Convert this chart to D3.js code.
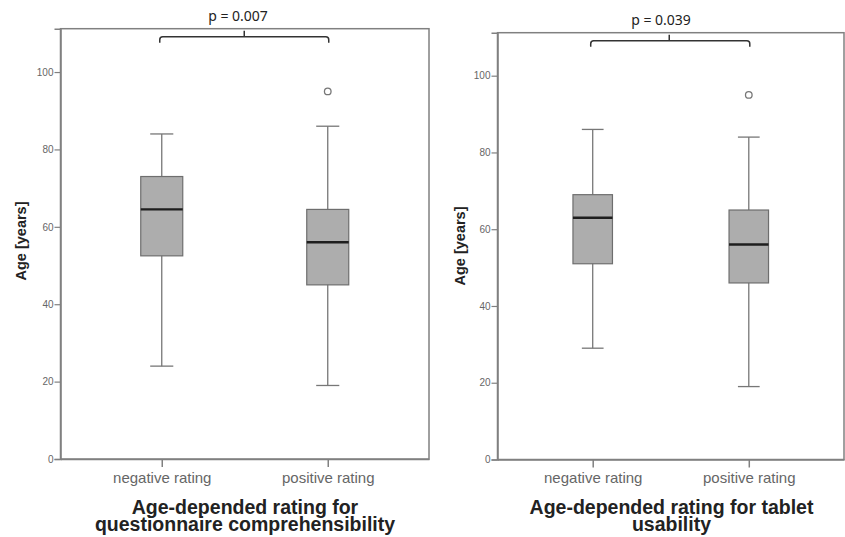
<!DOCTYPE html>
<meta charset="utf-8">
<script src="https://d3js.org/d3.v7.min.js"></script>
<style>
  body { margin: 0; background: #fff; }
</style>
<div id="chart"></div>
<script>
// categories and tick labels
var categories = ["negative rating", "positive rating"];
var yTicks = [0, 20, 40, 60, 80, 100];

// questionnaire comprehensibility (left)
var compLow = [24, 19];
var compQ1 = [52.5, 45];
var compMedian = [64.5, 56];
var compQ3 = [73, 64.5];
var compHigh = [84, 86];
var compOutliers = [[], [95]];

// tablet usability (right)
var tabLow = [29, 19];
var tabQ1 = [51, 46];
var tabMedian = [63, 56];
var tabQ3 = [69, 65];
var tabHigh = [86, 84];
var tabOutliers = [[], [95]];

var pValues = ["p = 0.007", "p = 0.039"];
var titles = [
  ["Age-depended rating for", "questionnaire comprehensibility"],
  ["Age-depended rating for tablet", "usability"]
];

var svg = d3.select("#chart").append("svg")
  .attr("width", 845)
  .attr("height", 537);

function makeRows(low, q1, med, q3, high, outl) {
  return categories.map(function(c, i) {
    return {cat: c, low: low[i], q1: q1[i], med: med[i], q3: q3[i], high: high[i], out: outl[i]};
  });
}

function drawPanel(rows, opt) {
  var g = svg.append("g");

  var y = d3.scaleLinear().domain([0, 111.2]).range([opt.bottom, opt.top]);
  var x = d3.scalePoint().domain(categories).range([opt.left, opt.right]).padding(0.61);

  // frame
  g.append("rect")
    .attr("x", opt.left).attr("y", opt.top)
    .attr("width", opt.right - opt.left).attr("height", opt.bottom - opt.top)
    .attr("fill", "none").attr("stroke", "#808080").attr("stroke-width", 1.5);

  // y axis
  var ya = g.append("g")
    .attr("transform", "translate(" + opt.left + ",0)")
    .call(d3.axisLeft(y).tickValues(yTicks).tickSize(6).tickPadding(1));
  ya.select(".domain").attr("stroke", "#808080").attr("stroke-width", 1.5);
  ya.selectAll(".tick line").attr("stroke", "#808080").attr("stroke-width", 1.2);
  ya.selectAll(".tick text").attr("fill", "#666").style("font", "10px 'Liberation Sans', Arial, sans-serif");

  // x axis
  var xa = g.append("g")
    .attr("transform", "translate(0," + opt.bottom + ")")
    .call(d3.axisBottom(x).tickSize(8).tickPadding(5).tickSizeOuter(0));
  xa.select(".domain").attr("stroke", "#808080").attr("stroke-width", 1.5);
  xa.selectAll(".tick line").attr("stroke", "#808080").attr("stroke-width", 1.5);
  xa.selectAll(".tick text").attr("fill", "#666").style("font", "15px 'Liberation Sans', Arial, sans-serif");

  // y label
  g.append("text")
    .attr("transform", "translate(" + opt.ylabX + "," + opt.ylabY + ") rotate(-90)")
    .attr("text-anchor", "middle")
    .attr("dy", "0.35em")
    .style("font", "bold 14.5px 'Liberation Sans', Arial, sans-serif")
    .attr("fill", "#222")
    .text("Age [years]");

  var bw = opt.boxW, cw = opt.boxW * 0.55;
  var boxes = g.selectAll(".box").data(rows).enter().append("g");

  boxes.append("line")
    .attr("x1", function(d) { return x(d.cat); }).attr("x2", function(d) { return x(d.cat); })
    .attr("y1", function(d) { return y(d.high); }).attr("y2", function(d) { return y(d.low); })
    .attr("stroke", "#777").attr("stroke-width", 1.3);
  boxes.selectAll(".cap").data(function(d) { return [[d.cat, d.high], [d.cat, d.low]]; }).enter()
    .append("line")
    .attr("x1", function(d) { return x(d[0]) - cw / 2; }).attr("x2", function(d) { return x(d[0]) + cw / 2; })
    .attr("y1", function(d) { return y(d[1]); }).attr("y2", function(d) { return y(d[1]); })
    .attr("stroke", "#777").attr("stroke-width", 1.3);
  boxes.append("rect")
    .attr("x", function(d) { return x(d.cat) - bw / 2; })
    .attr("y", function(d) { return y(d.q3); })
    .attr("width", bw)
    .attr("height", function(d) { return y(d.q1) - y(d.q3); })
    .attr("fill", "#adadad").attr("stroke", "#6e6e6e").attr("stroke-width", 1.2);
  boxes.append("line")
    .attr("x1", function(d) { return x(d.cat) - bw / 2; }).attr("x2", function(d) { return x(d.cat) + bw / 2; })
    .attr("y1", function(d) { return y(d.med); }).attr("y2", function(d) { return y(d.med); })
    .attr("stroke", "#1e1e1e").attr("stroke-width", 2.4);
  boxes.selectAll(".out").data(function(d) { return d.out.map(function(v) { return [d.cat, v]; }); }).enter()
    .append("circle")
    .attr("cx", function(d) { return x(d[0]); }).attr("cy", function(d) { return y(d[1]); })
    .attr("r", 3.3).attr("fill", "#fff").attr("stroke", "#777").attr("stroke-width", 1.3);

  // significance bracket
  var x0 = x(categories[0]) - 2, x1 = x(categories[1]) + 1, xm = (x0 + x1) / 2 + opt.midShift;
  var by = opt.top + 8, r = 3;
  var p = d3.path();
  p.moveTo(x0, by + 6);
  p.lineTo(x0, by + r);
  p.quadraticCurveTo(x0, by, x0 + r, by);
  p.lineTo(x1 - r, by);
  p.quadraticCurveTo(x1, by, x1, by + r);
  p.lineTo(x1, by + 6);
  p.moveTo(xm, by);
  p.lineTo(xm, by - 6);
  g.append("path").attr("d", p.toString())
    .attr("fill", "none").attr("stroke", "#333").attr("stroke-width", 1.5);

  g.append("text")
    .attr("x", opt.pX).attr("y", opt.top - 8)
    .attr("text-anchor", "middle")
    .style("font", "14px 'Noto Sans', sans-serif")
    .attr("fill", "#222")
    .text(opt.pText);

  // title
  g.selectAll(".title").data(opt.title).enter().append("text")
    .attr("x", opt.titleX)
    .attr("y", function(d, i) { return 514 + i * 17; })
    .attr("text-anchor", "middle")
    .style("font", "bold 19.5px 'Liberation Sans', Arial, sans-serif")
    .attr("fill", "#222")
    .text(function(d) { return d; });
}

drawPanel(makeRows(compLow, compQ1, compMedian, compQ3, compHigh, compOutliers), {
  left: 60.5, right: 429, top: 28.7, bottom: 459, boxW: 42, ylabX: 21, ylabY: 241,
  midShift: 0, pX: 238, pText: pValues[0], title: titles[0], titleX: 245
});
drawPanel(makeRows(tabLow, tabQ1, tabMedian, tabQ3, tabHigh, tabOutliers), {
  left: 497.5, right: 844, top: 32.7, bottom: 459.5, boxW: 39.5, ylabX: 460, ylabY: 246,
  midShift: -1, pX: 661, pText: pValues[1], title: titles[1], titleX: 671.5
});
</script>
